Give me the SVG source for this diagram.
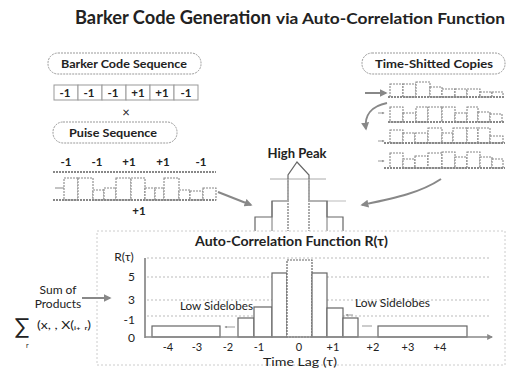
<svg xmlns="http://www.w3.org/2000/svg" width="507" height="368" viewBox="0 0 507 368">
<style>
text{font-family:"Lato","Open Sans","Liberation Sans",sans-serif;fill:#222}
.pill{fill:#fff;stroke:#999;stroke-width:1;stroke-dasharray:2 1}
.pt{font-size:12px;font-weight:bold;text-anchor:middle}
.cell{fill:#fff;stroke:#999;stroke-width:1}
.bar{fill:#fff;stroke:#666;stroke-width:1.2}
.sb{fill:#fff;stroke:#888;stroke-width:1.1;stroke-dasharray:2 1}
.base{stroke:#888;stroke-width:2;stroke-dasharray:2 1}
.grid{stroke:#bbb;stroke-width:1;stroke-dasharray:2 2}
.arr{stroke:#888;stroke-width:2;fill:none}
.ax{font-size:11.5px;text-anchor:middle}
.xl{font-size:11px;text-anchor:middle}
.lbl{font-size:12px}
</style>
<defs>
<marker id="ah" viewBox="0 0 10 10" refX="8" refY="5" markerWidth="4" markerHeight="4" orient="auto"><path d="M0 0L10 5L0 10z" fill="#888"/></marker>
<marker id="ahs" viewBox="0 0 10 10" refX="8" refY="5" markerWidth="3" markerHeight="3" orient="auto"><path d="M0 0L10 5L0 10z" fill="#999"/></marker>
</defs>
<rect width="507" height="368" fill="#fff"/>
<text x="75" y="24" style="font-size:18px;font-weight:bold" textLength="196" lengthAdjust="spacingAndGlyphs">Barker Code Generation</text>
<text x="276" y="24" style="font-size:14.5px;font-weight:bold" textLength="229" lengthAdjust="spacingAndGlyphs">via Auto-Correlation Function</text>

<g id="barker-seq">
<rect class="pill" x="48" y="53" width="153" height="21" rx="10"/>
<text class="pt" x="124" y="68" textLength="126" lengthAdjust="spacingAndGlyphs">Barker Code Sequence</text>
<g>
<rect class="cell" x="54" y="85" width="24" height="15"/>
<rect class="cell" x="78" y="85" width="24" height="15"/>
<rect class="cell" x="102" y="85" width="24" height="15"/>
<rect class="cell" x="126" y="85" width="24" height="15"/>
<rect class="cell" x="150" y="85" width="24" height="15"/>
<rect class="cell" x="174" y="85" width="24" height="15"/>
</g>
<g style="font-weight:bold">
<text x="65" y="97" class="ax">-1</text><text x="89" y="97" class="ax">-1</text><text x="113" y="97" class="ax">-1</text>
<text x="138" y="97" class="ax">+1</text><text x="162" y="97" class="ax">+1</text><text x="186" y="97" class="ax">-1</text>
</g>
<text class="ax" x="126" y="117" style="font-size:13px">×</text>
</g>

<g id="pulse-seq">
<rect class="pill" x="53" y="122" width="124" height="21" rx="10"/>
<text class="pt" x="113" y="137" textLength="88" lengthAdjust="spacingAndGlyphs">Puise Sequence</text>
<g style="font-weight:bold">
<text class="ax" x="66" y="166">-1</text><text class="ax" x="97" y="166">-1</text><text class="ax" x="129" y="166">+1</text><text class="ax" x="163" y="166">+1</text><text class="ax" x="201" y="166">-1</text>
</g>
<line class="base" x1="53" y1="172" x2="216" y2="172"/>
<line x1="55" y1="188" x2="64" y2="188" stroke="#888"/>
<rect class="sb" x="64" y="178" width="14" height="22"/>
<rect class="sb" x="78" y="178" width="15" height="22"/>
<rect class="sb" x="93" y="190" width="11" height="10"/>
<rect class="sb" x="104" y="188" width="12" height="12"/>
<rect class="sb" x="116" y="178" width="15" height="22"/>
<rect class="sb" x="131" y="178" width="14" height="22"/>
<rect class="sb" x="145" y="188" width="10" height="12"/>
<rect class="sb" x="155" y="188" width="9" height="12"/>
<rect class="sb" x="164" y="178" width="15" height="22"/>
<rect class="sb" x="179" y="190" width="11" height="10"/>
<rect class="sb" x="190" y="191" width="13" height="9"/>
<rect class="sb" x="203" y="188" width="13" height="12"/>
<line class="base" x1="53" y1="200" x2="216" y2="200"/>
<text class="ax" x="139" y="215" style="font-weight:bold">+1</text>
</g>

<g id="shifted-copies">
<rect class="pill" x="362" y="53" width="143" height="21" rx="10"/>
<text class="pt" x="434" y="68" textLength="118" lengthAdjust="spacingAndGlyphs">Time-Shitted Copies</text>
<g>
<rect class="sb" x="390" y="84" width="13" height="13"/><rect class="sb" x="403" y="84" width="13" height="13"/><rect class="sb" x="416" y="82" width="14" height="15"/>
<rect class="sb" x="430" y="87" width="12" height="10"/><rect class="sb" x="442" y="89" width="13" height="8"/><rect class="sb" x="455" y="89" width="12" height="8"/>
<rect class="sb" x="467" y="89" width="13" height="8"/><rect class="sb" x="480" y="92" width="12" height="5"/><rect class="sb" x="492" y="92" width="11" height="5"/>
<line class="base" x1="388" y1="97" x2="505" y2="97"/>
</g>
<g>
<rect class="sb" x="390" y="107" width="13" height="15"/><rect class="sb" x="403" y="113" width="13" height="9"/><rect class="sb" x="416" y="107" width="12" height="15"/>
<rect class="sb" x="428" y="107" width="14" height="15"/><rect class="sb" x="442" y="107" width="13" height="15"/><rect class="sb" x="455" y="113" width="12" height="9"/>
<rect class="sb" x="467" y="107" width="11" height="15"/><rect class="sb" x="478" y="112" width="12" height="10"/><rect class="sb" x="490" y="114" width="12" height="8"/>
<line class="base" x1="388" y1="122" x2="505" y2="122"/>
</g>
<g>
<rect class="sb" x="390" y="130" width="13" height="13"/><rect class="sb" x="403" y="133" width="12" height="10"/><rect class="sb" x="415" y="133" width="13" height="10"/>
<rect class="sb" x="428" y="128" width="14" height="15"/><rect class="sb" x="442" y="133" width="11" height="10"/><rect class="sb" x="453" y="128" width="14" height="15"/>
<rect class="sb" x="467" y="128" width="11" height="15"/><rect class="sb" x="478" y="128" width="12" height="15"/><rect class="sb" x="490" y="136" width="13" height="7"/>
<line class="base" x1="384" y1="143" x2="505" y2="143"/>
</g>
<g>
<rect class="sb" x="390" y="153" width="13" height="15"/><rect class="sb" x="403" y="159" width="12" height="9"/><rect class="sb" x="415" y="156" width="13" height="12"/>
<rect class="sb" x="428" y="153" width="14" height="15"/><rect class="sb" x="442" y="152" width="13" height="16"/><rect class="sb" x="455" y="157" width="12" height="11"/>
<rect class="sb" x="467" y="152" width="13" height="16"/><rect class="sb" x="480" y="157" width="12" height="11"/><rect class="sb" x="492" y="159" width="11" height="9"/>
<line class="base" x1="384" y1="168" x2="505" y2="168"/>
</g>
</g>

<g id="high-peak">
<text x="297" y="158" style="font-size:12.5px;font-weight:bold;text-anchor:middle" textLength="59" lengthAdjust="spacingAndGlyphs">High Peak</text>
<line x1="270" y1="179" x2="326" y2="179" stroke="#aaa"/>
<line x1="327" y1="201" x2="346" y2="201" stroke="#bbb"/>
<path d="M255 232V217H272V201H288V175L297 162L309 175V201H327V217H343V232" fill="none" stroke="#666" stroke-width="1.2"/>
<line x1="288" y1="179" x2="288" y2="232" stroke="#aaa" stroke-width="2" stroke-dasharray="2 1"/>
<line x1="309" y1="179" x2="309" y2="232" stroke="#aaa" stroke-width="2" stroke-dasharray="2 1"/>
<line x1="272" y1="201" x2="272" y2="232" stroke="#777"/>
<line x1="327" y1="201" x2="327" y2="232" stroke="#777"/>
</g>

<g id="acf-chart">
<rect x="97" y="231" width="408" height="134" fill="#fff" stroke="#ccc" stroke-dasharray="2 2"/>
<text x="195" y="246" style="font-size:12.5px;font-weight:bold" textLength="193" lengthAdjust="spacingAndGlyphs">Auto-Correlation Function  R(τ)</text>
<text x="124" y="261" class="ax" style="font-size:12px">R(τ)</text>
<g style="font-size:12px">
<text x="135" y="281" style="text-anchor:end">5</text>
<text x="135" y="304" style="text-anchor:end">3</text>
<text x="135" y="324" style="text-anchor:end">-1</text>
<text x="135" y="342" style="text-anchor:end">0</text>
</g>
<line class="grid" x1="147" y1="258" x2="490" y2="258"/>
<line class="grid" x1="147" y1="277" x2="490" y2="277"/>
<line class="grid" x1="147" y1="300" x2="490" y2="300"/>
<line class="grid" x1="147" y1="316" x2="490" y2="316"/>
<line x1="145" y1="258" x2="145" y2="338" stroke="#777" stroke-width="1.5"/>
<rect class="bar" x="152" y="326" width="68" height="11"/>
<rect class="bar" x="238" y="318" width="16" height="19"/>
<rect class="bar" x="254" y="307" width="18" height="30"/>
<rect class="bar" x="272" y="273" width="15" height="64"/>
<rect class="bar" x="287" y="260" width="25" height="77" style="stroke-dasharray:2 1"/>
<rect class="bar" x="312" y="273" width="15" height="64"/>
<rect class="bar" x="327" y="308" width="16" height="29"/>
<rect class="bar" x="343" y="318" width="15" height="19"/>
<rect class="bar" x="378" y="326" width="89" height="11"/>
<line x1="145" y1="337" x2="492" y2="337" stroke="#888" stroke-width="1.5" marker-end="url(#ah)"/>
<line x1="235" y1="327" x2="225" y2="327" stroke="#999" marker-end="url(#ahs)"/>
<line x1="353" y1="315" x2="346" y2="315" stroke="#999" marker-end="url(#ahs)"/>
<line x1="362" y1="326" x2="372" y2="326" stroke="#999"/>
<text class="lbl" x="180" y="310" textLength="73" lengthAdjust="spacingAndGlyphs">Low Sidelobes</text>
<text class="lbl" x="355" y="307" textLength="75" lengthAdjust="spacingAndGlyphs">Low Sidelobes</text>
<g>
<text class="xl" x="168" y="351">-4</text><text class="xl" x="197" y="351">-3</text><text class="xl" x="228" y="351">-2</text><text class="xl" x="259" y="351">-1</text>
<text class="xl" x="299" y="351">0</text><text class="xl" x="333" y="351">+1</text><text class="xl" x="373" y="351">+2</text><text class="xl" x="408" y="351">+3</text><text class="xl" x="440" y="351">+4</text>
</g>
<text x="263" y="365.5" style="font-size:11.5px" textLength="74" lengthAdjust="spacingAndGlyphs">Time Lag (τ)</text>
</g>

<g id="sum-products">
<text x="58" y="294" style="font-size:12px;text-anchor:middle">Sum of</text>
<text x="58" y="308" style="font-size:12px;text-anchor:middle">Products</text>
<text x="22" y="334" style="font-size:22px;text-anchor:middle">∑</text>
<text x="37" y="329" style="font-size:11px" textLength="54" lengthAdjust="spacingAndGlyphs">(x, , X(ᵢ₊ ᵣ)</text>
<text x="26" y="348" style="font-size:7px">r</text>
</g>

<g id="connectors">
<line class="arr" x1="82" y1="298" x2="110" y2="298" marker-end="url(#ah)"/>
<line class="arr" x1="218" y1="192" x2="251" y2="205" marker-end="url(#ah)"/>
<line class="arr" x1="365" y1="93" x2="386" y2="93" marker-end="url(#ah)"/>
<path class="arr" d="M387 103C372 106 364 115 366 129" marker-end="url(#ah)"/>
<line x1="378" y1="113" x2="384" y2="113" stroke="#999" marker-end="url(#ahs)"/>
<line x1="378" y1="141" x2="384" y2="141" stroke="#999" marker-end="url(#ahs)"/>
<line x1="378" y1="161" x2="384" y2="161" stroke="#999" marker-end="url(#ahs)"/>
<path class="arr" d="M441 179C420 193 395 198 362 205" marker-end="url(#ah)"/>
</g>
</svg>
